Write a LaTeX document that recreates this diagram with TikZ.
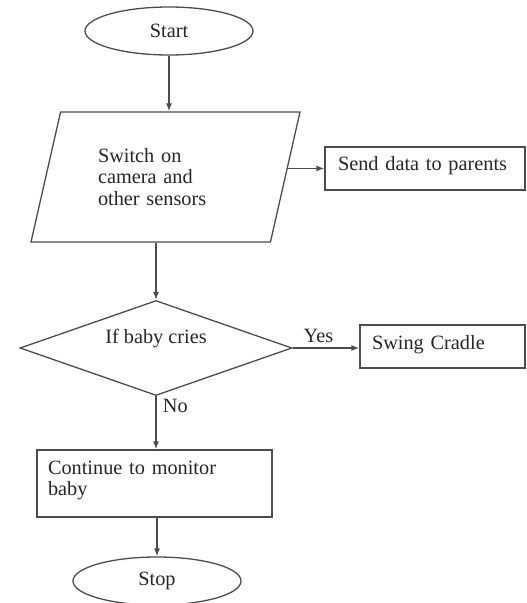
\documentclass[tikz,border=0pt]{standalone}
\usepackage{fontspec}
\setmainfont{Liberation Serif}
\usetikzlibrary{shapes.geometric,arrows.meta}

\begin{document}
\begin{tikzpicture}[x=1pt, y=-1pt,
  every node/.style={text=black!85, font=\fontsize{20.3}{21.5}\selectfont},
  line/.style={draw=black!70, line width=1.3pt},
  term/.style={line, ellipse, minimum width=168pt, minimum height=48pt, inner sep=0pt},
  io/.style={line, trapezium, trapezium left angle=63, trapezium right angle=117,
    trapezium stretches body, minimum width=269pt, minimum height=130pt,
    text width=135pt, align=left, inner sep=0pt, text height=14pt, text depth=44pt},
  box/.style={line, rectangle, align=left, inner ysep=0pt, text height=14pt},
  cond/.style={line, diamond, minimum width=272pt, minimum height=95pt, inner sep=0pt},
  arr/.style={line, -{Latex[length=8pt, width=6pt]}}]

  \useasboundingbox (0,0) rectangle (527,603);

  \node[term] (start) at (169, 31) {Start};
  \node[io] (switch) at (165.5, 177) {Switch on\\camera and\\other sensors};
  \node[box, inner xsep=13pt, text width=174pt, minimum height=43pt, text depth=11pt]
    (send) at (425, 168.5) {Send data to parents};
  \node[cond, label={[yshift=9pt]center:If baby cries}] (cries) at (156, 348) {};
  \node[box, inner xsep=12pt, text width=141pt, minimum height=43pt, text depth=9pt]
    (swing) at (442.5, 346.5) {Swing Cradle};
  \node[box, inner xsep=11pt, text width=213pt, minimum height=67pt, text depth=33pt]
    (monitor) at (154.5, 483.5) {Continue to monitor\\baby};
  \node[term] (stop) at (157, 581) {Stop};

  \draw[arr] (start.south) -- (start.south |- switch.north); %% start->switch
  \draw[arr] (switch.4.6) -- (switch.4.6 -| send.west); %% switch->send
  \draw[arr] (cries.north |- switch.south) -- (cries.north); %% switch->cries
  \draw[arr] (cries.east) -- node[pos=0.386, above=1pt]{Yes} (cries.east -| swing.west); %% yes
  \draw[arr] (cries.south) -- node[pos=0.18, right=3pt]{No} (cries.south |- monitor.north); %% no
  \draw[arr] (stop.north |- monitor.south) -- (stop.north); %% monitor->stop
\end{tikzpicture}
\end{document}
